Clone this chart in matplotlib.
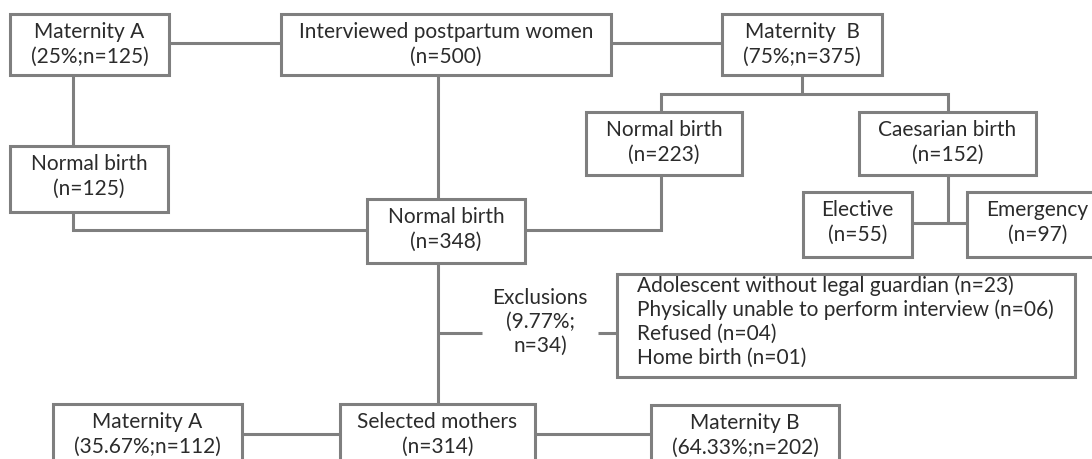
import matplotlib
matplotlib.use("Agg")
import matplotlib.pyplot as plt
from matplotlib.patches import Rectangle

# ---------------------------------------------
# Data
# ---------------------------------------------

BOX_TITLES	= ["Maternity A", "Interviewed postpartum women", "Maternity  B",
		   "Normal birth", "Normal birth", "Caesarian birth",
		   "Normal birth", "Elective", "Emergency",
		   "Maternity A", "Selected mothers", "Maternity B"]
BOX_PCTS	= ["25", None, "75", None, None, None, None, None, None, "35.67", None, "64.33"]
BOX_NS		= [125, 500, 375, 125, 223, 152, 348, 55, 97, 112, 314, 202]

EXCL_PCT	= "9.77"
EXCL_N		= 34
EXCL_REASONS	= ["Adolescent without legal guardian", "Physically unable to perform interview",
		   "Refused", "Home birth"]
EXCL_COUNTS	= ["23", "06", "04", "01"]

# ---------------------------------------------
# Layout (pixel coordinates, y down)
# ---------------------------------------------

BOX_POS = [
	(10, 14, 169, 75),
	(281, 14, 611, 75),
	(722, 14, 882, 75),
	(10, 146, 168, 212),
	(586, 112, 742, 175),
	(859, 112, 1036, 175),
	(367, 199, 525, 263),
	(803, 192, 912, 257),
	(967, 192, 1108, 257),
	(53, 404, 242, 480),
	(340, 404, 535, 480),
	(651, 405, 839, 480),
]

EXCL_BOX = (617, 274, 1075, 377)

CONNECTORS = [
	[(169, 43), (281, 43)],
	[(611, 43), (722, 43)],
	[(73, 75), (73, 146)],
	[(438, 75), (438, 199)],
	[(73, 212), (73, 230), (367, 230)],
	[(525, 230), (661, 230), (661, 175)],
	[(802, 75), (802, 94)],
	[(661, 112), (661, 94), (948, 94), (948, 112)],
	[(948, 175), (948, 223)],
	[(912, 223), (967, 223)],
	[(438, 263), (438, 404)],
	[(438, 333), (482, 333)],
	[(598, 333), (617, 333)],
	[(242, 434), (340, 434)],
	[(535, 434), (651, 434)],
]

LINE_COLOR	= "#7f7f7f"
TEXT_COLOR	= "#2b2b2b"
LW		= 2.2
FS		= 15
plt.rcParams['font.family'] = ['Lato', 'DejaVu Sans']

# ---------------------------------------------
# Plot
# ---------------------------------------------

fig = plt.figure(figsize=(10.92, 4.59), dpi=100)
ax = fig.add_axes([0, 0, 1, 1])
ax.set_xlim(0, 1092)
ax.set_ylim(459, 0)
ax.axis("off")

for pts in CONNECTORS:
	xs = [p[0] for p in pts]
	ys = [p[1] for p in pts]
	ax.plot(xs, ys, color=LINE_COLOR, linewidth=LW, solid_capstyle="butt",
		solid_joinstyle="miter", zorder=1)

for (x0, y0, x1, y1), title, pct, n in zip(BOX_POS, BOX_TITLES, BOX_PCTS, BOX_NS):
	ax.add_patch(Rectangle((x0, y0), x1 - x0, y1 - y0, facecolor="white",
			       edgecolor=LINE_COLOR, linewidth=LW, joinstyle="miter", zorder=2))
	cx = (x0 + x1)/2
	sub = f"({pct}%;n={n})" if pct else f"(n={n})"
	ax.text(cx, y0 + 18, title, ha="center", va="center", fontsize=FS, color=TEXT_COLOR, zorder=3)
	ax.text(cx, y0 + 43, sub, ha="center", va="center", fontsize=FS, color=TEXT_COLOR, zorder=3)

# exclusions label
for i, s in enumerate(["Exclusions", f"({EXCL_PCT}%;", f"n={EXCL_N})"]):
	ax.text(540, 298 + 24*i, s, ha="center", va="center", fontsize=FS, color=TEXT_COLOR)

x0, y0, x1, y1 = EXCL_BOX
ax.add_patch(Rectangle((x0, y0), x1 - x0, y1 - y0, facecolor="white",
		       edgecolor=LINE_COLOR, linewidth=LW, joinstyle="miter", zorder=2))
for i, (r, c) in enumerate(zip(EXCL_REASONS, EXCL_COUNTS)):
	ax.text(x0 + 20, 286 + 24*i, f"{r} (n={c})", ha="left", va="center",
		fontsize=FS, color=TEXT_COLOR, zorder=3)

fig.savefig("out.png", dpi=100)
